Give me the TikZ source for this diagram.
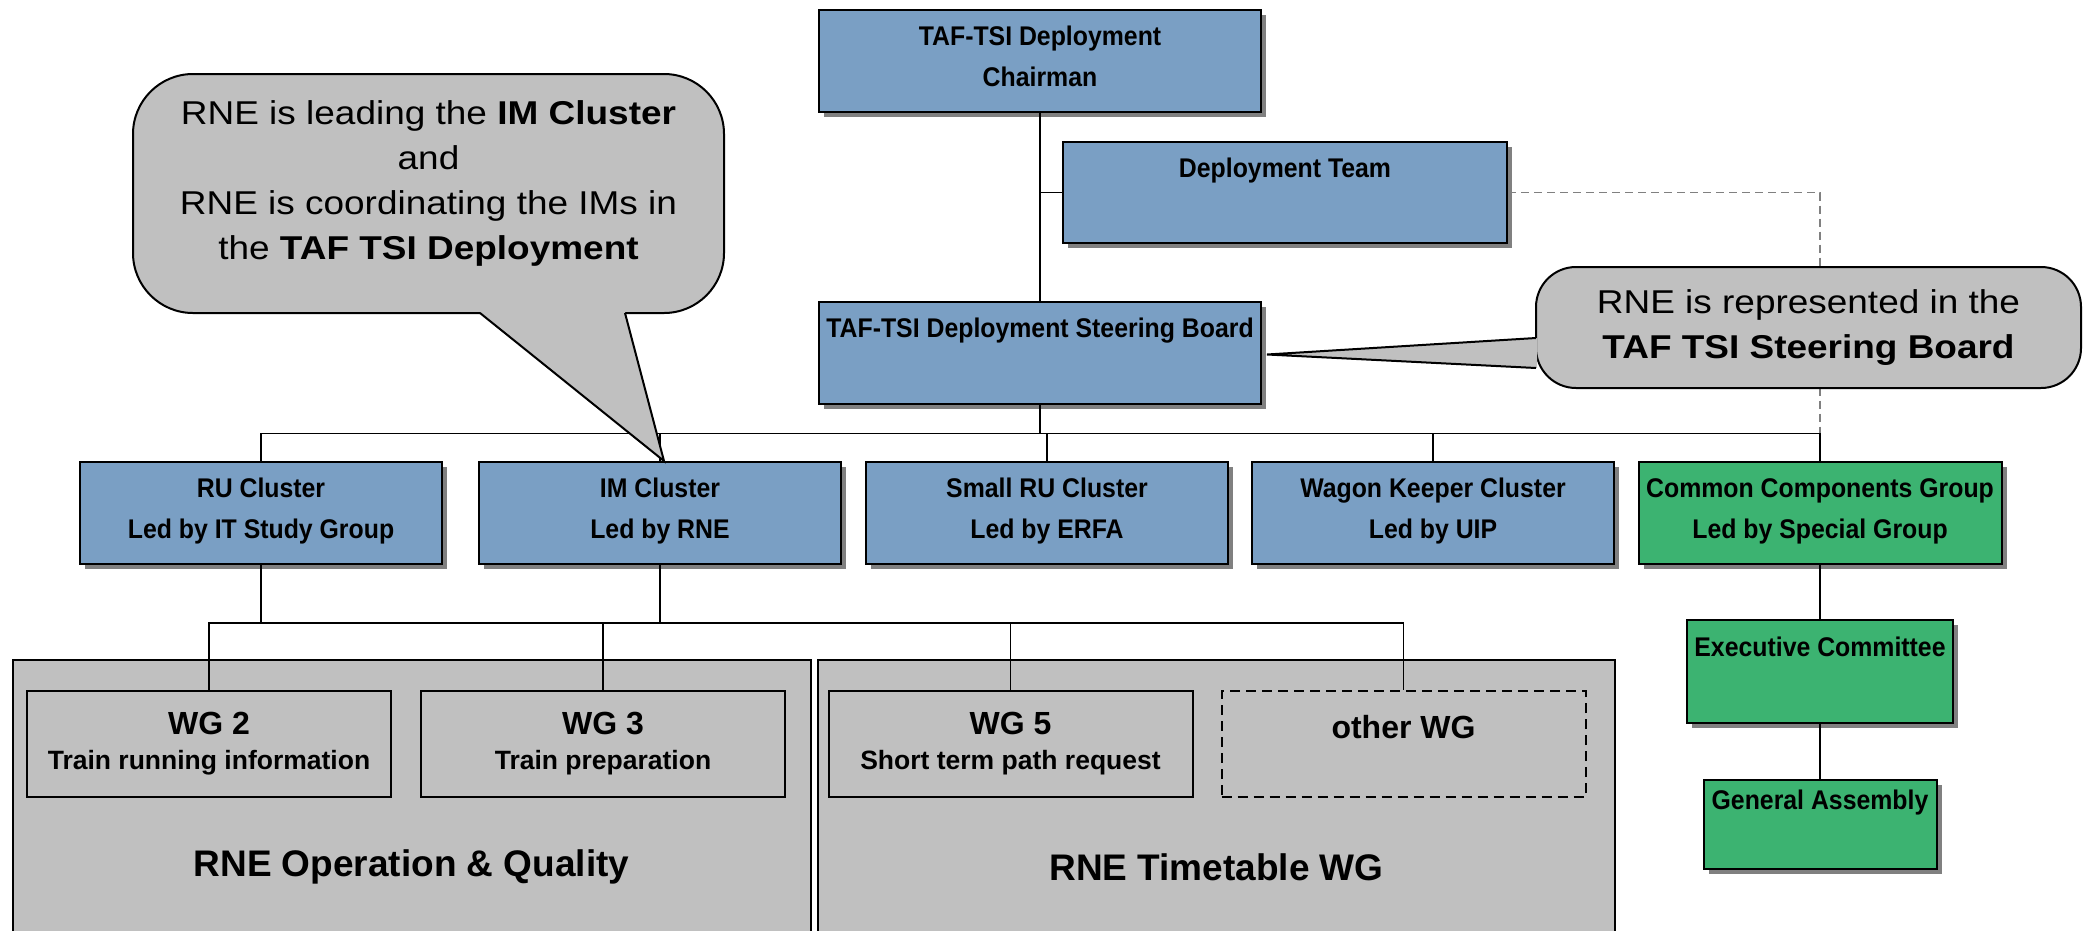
\documentclass[tikz,border=0pt]{standalone}
\usepackage{fontspec}
\setmainfont{Liberation Sans}
\newfontfamily\boxfont[FakeStretch=0.92]{Liberation Sans}
\newfontfamily\notefont[FakeStretch=1.12]{Liberation Sans}
\usetikzlibrary{shadows}
\definecolor{unitblue}{RGB}{122,159,196}
\definecolor{ccgreen}{RGB}{60,179,113}
\definecolor{wggrey}{RGB}{192,192,192}
\definecolor{shadowgrey}{RGB}{128,128,128}
\newcommand\wghead{\fontsize{32}{35}\selectfont}

\begin{document}
\begin{tikzpicture}[x=1pt, y=-1pt, line width=1.5pt, line join=miter,
    unit/.style={draw, line width=2pt, fill=unitblue, align=center, inner sep=0pt,
        minimum width=362pt, minimum height=102pt,
        font=\boxfont\bfseries\fontsize{27}{41}\selectfont,
        execute at end node={\rule[-9pt]{0pt}{9pt}},
        drop shadow={shadow xshift=5pt, shadow yshift=-5pt, fill=shadowgrey, opacity=1}},
    ccunit/.style={unit, fill=ccgreen},
    group/.style={draw, line width=2pt, fill=wggrey, inner sep=0pt,
        minimum width=798pt, minimum height=414pt,
        font=\bfseries\fontsize{37}{43}\selectfont},
    wg/.style={draw, line width=2pt, fill=wggrey, align=center, inner sep=0pt,
        minimum width=364pt, minimum height=106pt,
        font=\bfseries\fontsize{26.5}{35}\selectfont},
    notetext/.style={align=center, inner sep=0pt, font=\notefont\fontsize{33}{45}\selectfont},
    note/.style={notetext, draw, line width=2pt, fill=wggrey}]
\useasboundingbox (0,0) rectangle (2087,930);

% steering level
\node[unit, minimum width=442pt] (chair) at (1040,61) {TAF-TSI Deployment\\Chairman};
\node[unit, minimum width=444pt, minimum height=101pt] (team) at (1285,192.5) {Deployment Team\\\mbox{}};
\node[unit, minimum width=442pt] (board) at (1040,352.5) {TAF-TSI Deployment Steering Board\\\mbox{}};
\draw (chair.south) -- (board.north);
\draw (team.west) -- (team.west -| chair.south);
\draw[shadowgrey, dash pattern=on 8pt off 5pt] (team.east) -| (1820,462);

% clusters
\node[unit] (ru) at (261,513) {RU Cluster\\Led by IT Study Group};
\node[unit] (im) at (660,513) {IM Cluster\\Led by RNE};
\node[unit] (smallru) at (1047,513) {Small RU Cluster\\Led by ERFA};
\node[unit] (wagon) at (1433,513) {Wagon Keeper Cluster\\Led by UIP};
\node[ccunit, minimum width=363pt] (ccg) at (1820,513) {Common Components Group\\Led by Special Group};
\foreach \c in {ru,im,smallru,wagon,ccg}
    \draw (board.south) -- ++(0,29) -| (\c.north);

% RNE groups
\node[group] (opq) at (411.5,867) {RNE Operation \& Quality};
\node[group, minimum width=797pt] (tt) at (1216.5,867) {RNE Timetable WG};
\node[wg] (wg2) at (209,744) {{\wghead WG 2}\\Train running information};
\node[wg] (wg3) at (603,744) {{\wghead WG 3}\\Train preparation};
\node[wg] (wg5) at (1010.5,744) {{\wghead WG 5}\\Short term path request};
\node[wg, dash pattern=on 10pt off 6pt] (otherwg) at (1403.5,744) {{\wghead other WG}\\\mbox{}};
\foreach \c in {ru,im}
    \foreach \w in {wg2,wg3,wg5,otherwg}
        \draw (\c.south) -- ++(0,58) -| (\w.north);

% common components
\node[ccunit, minimum width=266pt, minimum height=103pt] (exec) at (1820,671.5) {Executive Committee\\\mbox{}};
\node[ccunit, minimum width=233pt, minimum height=89pt] (assembly) at (1820,824.5) {General Assembly\\\mbox{}};
\draw (ccg.south) -- (exec.north);
\draw (exec.south) -- (assembly.north);

% callouts
\node[note, rounded corners=60pt, minimum width=591pt, minimum height=239pt] (leadnote) at (428.5,193.5) {};
\fill[wggrey] ([xshift=51.5pt, yshift=2pt]leadnote.south) -- ([xshift=4pt]im.north)
    -- ([xshift=196.5pt, yshift=2pt]leadnote.south) -- cycle;
\draw[line width=2pt] ([xshift=51.5pt, yshift=1pt]leadnote.south) -- ([xshift=4pt]im.north)
    -- ([xshift=196.5pt, yshift=1pt]leadnote.south);
\node[notetext] (leadtext) at ([yshift=10pt]leadnote.center)
    {RNE is leading the \textbf{IM Cluster}\\and\\RNE is coordinating the IMs in\\the \textbf{TAF TSI Deployment}};

\node[note, rounded corners=40pt, minimum width=545pt, minimum height=121pt] (boardnote) at (1808.5,327.5)
    {RNE is represented in the\\\textbf{TAF TSI Steering Board}};
\fill[wggrey] ([xshift=2pt, yshift=-10.5pt]boardnote.west) -- ([xshift=5pt, yshift=-2pt]board.east)
    -- ([xshift=2pt, yshift=-40.5pt]boardnote.west) -- cycle;
\draw[line width=2pt] ([xshift=1pt, yshift=-10.5pt]boardnote.west) -- ([xshift=5pt, yshift=-2pt]board.east)
    -- ([xshift=1pt, yshift=-40.5pt]boardnote.west);

\end{tikzpicture}
\end{document}
